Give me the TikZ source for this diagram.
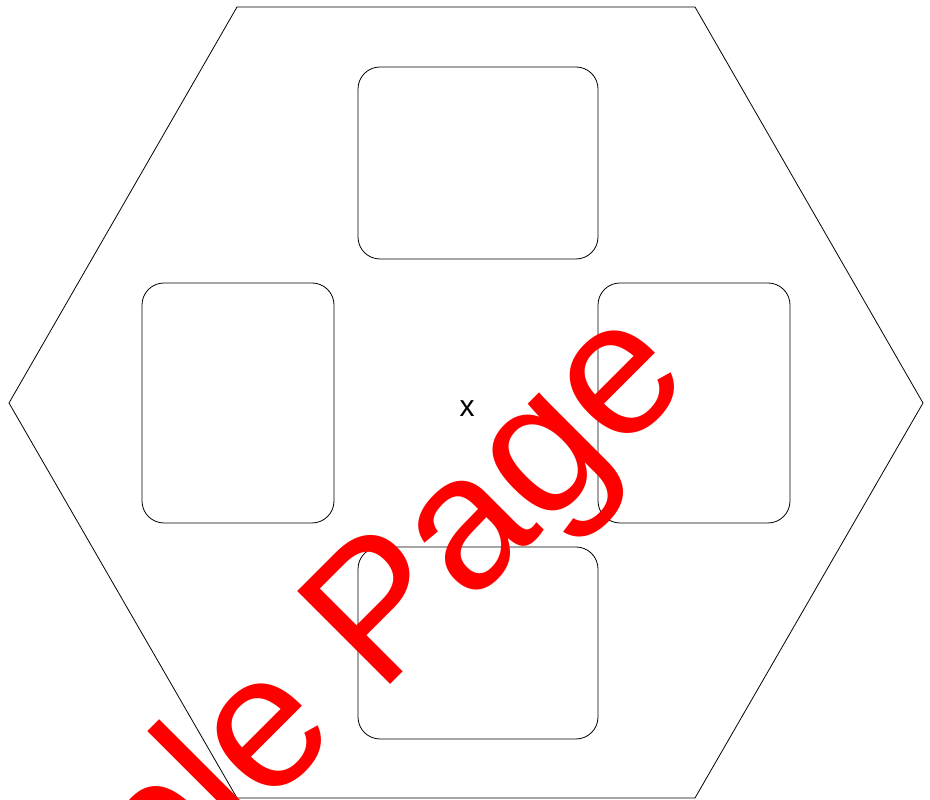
\documentclass[tikz,border=0pt]{standalone}
\usepackage{fontspec}
\setmainfont{Liberation Sans}
\begin{document}
\begin{tikzpicture}[x=1pt,y=1pt,
  panel/.style={draw=black, line width=0.8pt, rounded corners=22pt, inner sep=0pt},
  wide/.style={panel, minimum width=240pt, minimum height=192pt},
  tall/.style={panel, minimum width=192pt, minimum height=240pt},
  hexline/.style={draw=black, line width=0.8pt},
  centerlabel/.style={font=\fontsize{30}{34}\selectfont},
  watermark/.style={text=red, font=\fontsize{191}{200}\selectfont, inner sep=0pt, anchor=base west, rotate=45}]
\useasboundingbox (0,0) rectangle (930,800);
\clip (0,0) rectangle (930,800);
\fill[white] (0,0) rectangle (930,800);
\coordinate (h1) at (237,793);
\coordinate (h2) at (695,793);
\coordinate (h3) at (923,397);
\coordinate (h4) at (695,2);
\coordinate (h5) at (237,2);
\coordinate (h6) at (9,397);
\draw[hexline] (h1) -- (h2) -- (h3) -- (h4) -- (h5) -- (h6) -- cycle;
\node[wide] (top) at (478,637) {};
\node[tall] (left) at (238,397) {};
\node[tall] (right) at (694,397) {};
\node[wide] (bottom) at (478,157) {};
\node[centerlabel] (x) at (467,391) {x};
\node[watermark] (wm) at (-116,-391) {Sample Page};
\end{tikzpicture}
\end{document}
